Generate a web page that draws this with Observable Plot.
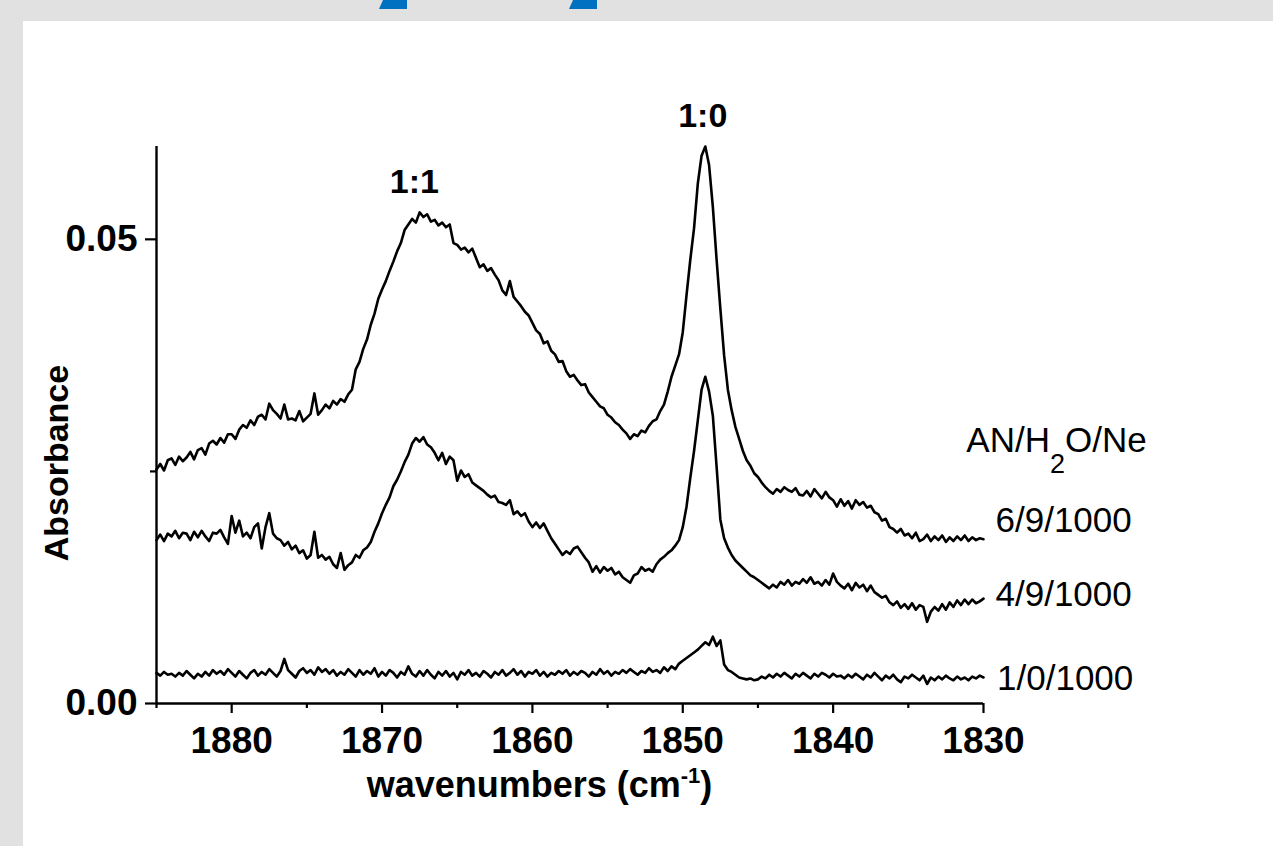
<!DOCTYPE html>
<html><head><meta charset="utf-8">
<script src="https://cdn.jsdelivr.net/npm/d3@7"></script>
<script src="https://cdn.jsdelivr.net/npm/@observablehq/plot@0.6"></script>
<style>
html,body{margin:0;padding:0;background:#e1e1e1;width:1273px;height:846px;overflow:hidden;}
#panel{position:absolute;left:23px;top:21px;width:1250px;height:825px;background:#fff;}
.blue{position:absolute;top:0;height:9px;background:#0070c0;clip-path:polygon(4px 0,100% 0,100% 100%,0 100%);}
#chart{position:absolute;left:0;top:0;}
</style></head><body>
<div id="panel"></div>
<div class="blue" style="left:379px;width:28px"></div>
<div class="blue" style="left:569px;width:28px"></div>
<div id="chart"></div>
<script>
// wavenumber grid (cm-1)
const wavenumbers = [
1885,1884.75,1884.5,1884.25,1884,1883.75,1883.5,1883.25,1883,1882.75,1882.5,1882.25,
1882,1881.75,1881.5,1881.25,1881,1880.75,1880.5,1880.25,1880,1879.75,1879.5,1879.25,
1879,1878.75,1878.5,1878.25,1878,1877.75,1877.5,1877.25,1877,1876.75,1876.5,1876.25,
1876,1875.75,1875.5,1875.25,1875,1874.75,1874.5,1874.25,1874,1873.75,1873.5,1873.25,
1873,1872.75,1872.5,1872.25,1872,1871.75,1871.5,1871.25,1871,1870.75,1870.5,1870.25,
1870,1869.75,1869.5,1869.25,1869,1868.75,1868.5,1868.25,1868,1867.75,1867.5,1867.25,
1867,1866.75,1866.5,1866.25,1866,1865.75,1865.5,1865.25,1865,1864.75,1864.5,1864.25,
1864,1863.75,1863.5,1863.25,1863,1862.75,1862.5,1862.25,1862,1861.75,1861.5,1861.25,
1861,1860.75,1860.5,1860.25,1860,1859.75,1859.5,1859.25,1859,1858.75,1858.5,1858.25,
1858,1857.75,1857.5,1857.25,1857,1856.75,1856.5,1856.25,1856,1855.75,1855.5,1855.25,
1855,1854.75,1854.5,1854.25,1854,1853.75,1853.5,1853.25,1853,1852.75,1852.5,1852.25,
1852,1851.75,1851.5,1851.25,1851,1850.75,1850.5,1850.25,1850,1849.75,1849.5,1849.25,
1849,1848.75,1848.5,1848.25,1848,1847.75,1847.5,1847.25,1847,1846.75,1846.5,1846.25,
1846,1845.75,1845.5,1845.25,1845,1844.75,1844.5,1844.25,1844,1843.75,1843.5,1843.25,
1843,1842.75,1842.5,1842.25,1842,1841.75,1841.5,1841.25,1841,1840.75,1840.5,1840.25,
1840,1839.75,1839.5,1839.25,1839,1838.75,1838.5,1838.25,1838,1837.75,1837.5,1837.25,
1837,1836.75,1836.5,1836.25,1836,1835.75,1835.5,1835.25,1835,1834.75,1834.5,1834.25,
1834,1833.75,1833.5,1833.25,1833,1832.75,1832.5,1832.25,1832,1831.75,1831.5,1831.25,
1831,1830.75,1830.5,1830.25,1830];

// AN/H2O/Ne = 6/9/1000
const absorbance_6_9_1000 = [
0.0252,0.0258,0.0251,0.0262, 0.0264,0.0257,0.0266,0.0261, 0.0265,0.0271,0.0263,0.0273,
0.0275,0.0268,0.0280,0.0283, 0.0279,0.0286,0.0281,0.0290, 0.0290,0.0285,0.0295,0.0300,
0.0297,0.0305,0.0300,0.0309, 0.0311,0.0306,0.0323,0.0316, 0.0312,0.0307,0.0322,0.0306,
0.0307,0.0305,0.0315,0.0304, 0.0308,0.0312,0.0334,0.0311, 0.0316,0.0322,0.0318,0.0326,
0.0322,0.0328,0.0325,0.0333, 0.0338,0.0360,0.0368,0.0382, 0.0392,0.0408,0.0420,0.0436,
0.0446,0.0455,0.0466,0.0476, 0.0487,0.0496,0.0510,0.0516, 0.0522,0.0518,0.0529,0.0524,
0.0527,0.0519,0.0521,0.0515, 0.0518,0.0513,0.0516,0.0496, 0.0494,0.0489,0.0491,0.0486,
0.0490,0.0480,0.0470,0.0473, 0.0466,0.0469,0.0462,0.0456, 0.0445,0.0440,0.0455,0.0438,
0.0433,0.0428,0.0422,0.0418, 0.0410,0.0402,0.0398,0.0388, 0.0390,0.0380,0.0376,0.0368,
0.0369,0.0358,0.0352,0.0354, 0.0348,0.0343,0.0344,0.0335, 0.0330,0.0325,0.0320,0.0318,
0.0311,0.0308,0.0303,0.0300, 0.0295,0.0291,0.0285,0.0290, 0.0288,0.0294,0.0292,0.0299,
0.0304,0.0306,0.0315,0.0322, 0.0336,0.0352,0.0364,0.0376, 0.0400,0.0440,0.0478,0.0512,
0.0560,0.0590,0.0600,0.0580, 0.0535,0.0478,0.0425,0.0375, 0.0338,0.0316,0.0298,0.0285,
0.0272,0.0262,0.0256,0.0248, 0.0244,0.0238,0.0233,0.0229, 0.0226,0.0231,0.0228,0.0233,
0.0230,0.0228,0.0232,0.0225, 0.0224,0.0229,0.0223,0.0231, 0.0226,0.0221,0.0228,0.0222,
0.0219,0.0212,0.0220,0.0213, 0.0218,0.0210,0.0219,0.0214, 0.0217,0.0211,0.0213,0.0206,
0.0204,0.0197,0.0199,0.0190, 0.0188,0.0184,0.0188,0.0181, 0.0183,0.0178,0.0184,0.0175,
0.0177,0.0182,0.0175,0.0180, 0.0176,0.0181,0.0174,0.0179, 0.0175,0.0180,0.0176,0.0181,
0.0175,0.0179,0.0176,0.0178, 0.0177];

// AN/H2O/Ne = 4/9/1000
const absorbance_4_9_1000 = [
0.0176,0.0182,0.0175,0.0183, 0.0180,0.0186,0.0178,0.0184, 0.0183,0.0176,0.0185,0.0179,
0.0186,0.0180,0.0175,0.0184, 0.0183,0.0187,0.0179,0.0172, 0.0202,0.0184,0.0197,0.0180,
0.0184,0.0178,0.0190,0.0194, 0.0167,0.0190,0.0205,0.0183, 0.0178,0.0176,0.0170,0.0174,
0.0166,0.0170,0.0162,0.0165, 0.0156,0.0160,0.0185,0.0157, 0.0160,0.0155,0.0158,0.0150,
0.0146,0.0162,0.0144,0.0149, 0.0152,0.0160,0.0157,0.0165, 0.0168,0.0174,0.0185,0.0194,
0.0205,0.0214,0.0222,0.0234, 0.0241,0.0250,0.0260,0.0268, 0.0280,0.0286,0.0282,0.0287,
0.0279,0.0276,0.0270,0.0262, 0.0270,0.0258,0.0266,0.0262, 0.0240,0.0251,0.0244,0.0247,
0.0238,0.0235,0.0232,0.0229, 0.0225,0.0222,0.0224,0.0217, 0.0216,0.0214,0.0219,0.0204,
0.0207,0.0202,0.0205,0.0196, 0.0190,0.0195,0.0189,0.0194, 0.0186,0.0178,0.0172,0.0166,
0.0160,0.0164,0.0161,0.0167, 0.0169,0.0163,0.0157,0.0152, 0.0142,0.0148,0.0141,0.0147,
0.0143,0.0146,0.0139,0.0142, 0.0136,0.0133,0.0130,0.0138, 0.0140,0.0147,0.0143,0.0145,
0.0142,0.0150,0.0155,0.0158, 0.0162,0.0165,0.0170,0.0176, 0.0190,0.0212,0.0243,0.0272,
0.0305,0.0338,0.0352,0.0336, 0.0310,0.0255,0.0198,0.0178, 0.0168,0.0160,0.0154,0.0150,
0.0146,0.0142,0.0138,0.0136, 0.0133,0.0130,0.0127,0.0124, 0.0128,0.0125,0.0131,0.0128,
0.0133,0.0127,0.0131,0.0129, 0.0134,0.0130,0.0136,0.0129, 0.0131,0.0127,0.0133,0.0128,
0.0140,0.0131,0.0127,0.0124, 0.0129,0.0122,0.0130,0.0125, 0.0128,0.0121,0.0127,0.0120,
0.0117,0.0114,0.0116,0.0109, 0.0106,0.0110,0.0103,0.0107, 0.0102,0.0108,0.0101,0.0106,
0.0104,0.0088,0.0099,0.0104, 0.0100,0.0107,0.0101,0.0109, 0.0104,0.0111,0.0106,0.0112,
0.0107,0.0112,0.0108,0.0110, 0.0113];

// AN/H2O/Ne = 1/0/1000
const absorbance_1_0_1000 = [
0.0033,0.0030,0.0034,0.0031, 0.0032,0.0029,0.0033,0.0030, 0.0035,0.0031,0.0027,0.0032,
0.0029,0.0034,0.0030,0.0036, 0.0032,0.0035,0.0031,0.0037, 0.0033,0.0029,0.0035,0.0031,
0.0027,0.0033,0.0036,0.0030, 0.0034,0.0031,0.0037,0.0033, 0.0029,0.0035,0.0048,0.0036,
0.0032,0.0028,0.0035,0.0038, 0.0033,0.0036,0.0031,0.0039, 0.0034,0.0037,0.0032,0.0036,
0.0030,0.0034,0.0031,0.0037, 0.0033,0.0029,0.0036,0.0031, 0.0035,0.0032,0.0038,0.0029,
0.0034,0.0030,0.0036,0.0033, 0.0028,0.0034,0.0031,0.0040, 0.0032,0.0029,0.0035,0.0030,
0.0036,0.0031,0.0027,0.0034, 0.0030,0.0035,0.0029,0.0033, 0.0026,0.0034,0.0031,0.0036,
0.0030,0.0033,0.0029,0.0035, 0.0032,0.0028,0.0034,0.0031, 0.0036,0.0030,0.0033,0.0037,
0.0031,0.0035,0.0029,0.0034, 0.0032,0.0036,0.0030,0.0034, 0.0029,0.0033,0.0031,0.0035,
0.0032,0.0036,0.0030,0.0034, 0.0031,0.0035,0.0033,0.0029, 0.0034,0.0031,0.0037,0.0032,
0.0035,0.0030,0.0034,0.0032, 0.0036,0.0033,0.0037,0.0034, 0.0031,0.0035,0.0033,0.0038,
0.0034,0.0036,0.0033,0.0039, 0.0035,0.0040,0.0037,0.0043, 0.0046,0.0049,0.0052,0.0055,
0.0058,0.0062,0.0066,0.0063, 0.0072,0.0062,0.0068,0.0042, 0.0036,0.0034,0.0031,0.0028,
0.0027,0.0026,0.0027,0.0025, 0.0026,0.0029,0.0027,0.0031, 0.0028,0.0032,0.0029,0.0033,
0.0030,0.0027,0.0032,0.0029, 0.0033,0.0030,0.0027,0.0032, 0.0029,0.0033,0.0031,0.0028,
0.0032,0.0029,0.0030,0.0027, 0.0031,0.0028,0.0032,0.0029, 0.0026,0.0031,0.0028,0.0033,
0.0029,0.0025,0.0030,0.0027, 0.0031,0.0026,0.0023,0.0029, 0.0027,0.0031,0.0028,0.0025,
0.0030,0.0021,0.0028,0.0025, 0.0029,0.0026,0.0030,0.0027, 0.0025,0.0029,0.0026,0.0028,
0.0025,0.0029,0.0027,0.0030, 0.0028];

const seriesNames = ["6/9/1000", "4/9/1000", "1/0/1000"];
const xMajorTicks = [1880, 1870, 1860, 1850, 1840, 1830];
const xMinorTicks = [1885, 1875, 1865, 1855, 1845, 1835];
const yMajorTicks = [0, 0.05];
const yMinorTicks = [0.025];
const peakLabels = [
  {label: "1:1", w: 1867.85, a: 0.0562},
  {label: "1:0", w: 1848.67, a: 0.0633}
];
const sampleLabels = [
  {label: "AN/H2O/Ne", w: 1831.14, a: 0.0283},
  {label: "6/9/1000", w: 1829.2, a: 0.01966},
  {label: "4/9/1000", w: 1829.2, a: 0.01169},
  {label: "1/0/1000", w: 1829.1, a: 0.00264}
];
const xTitle = [{label: "wavenumbers (cm-1)", w: 1859.53}];
const yTitle = [{label: "Absorbance", a: 0.0259}];

const rows = [];
[absorbance_6_9_1000, absorbance_4_9_1000, absorbance_1_0_1000].forEach((arr, k) =>
  arr.forEach((a, i) => rows.push({w: wavenumbers[i], a, series: seriesNames[k]})));

const FONT = "'Liberation Sans', Arial, Helvetica, sans-serif";
const plot = Plot.plot({
  width: 1273, height: 846,
  marginLeft: 156, marginRight: 290, marginTop: 146, marginBottom: 143,
  style: {fontFamily: FONT, background: "transparent", color: "black", overflow: "visible"},
  x: {domain: [1885, 1830], axis: null, label: null},
  y: {domain: [0, 0.06], axis: null, label: null},
  marks: [
    Plot.line(rows, {x: "w", y: "a", z: "series", stroke: "black", strokeWidth: 2.6, strokeLinejoin: "round"}),
    Plot.ruleY([0], {stroke: "black", strokeWidth: 2.4}),
    Plot.ruleX([1885], {stroke: "black", strokeWidth: 2.4}),
    Plot.axisX(xMajorTicks, {anchor: "bottom", label: null, tickSize: 10, tickPadding: 13, tickFormat: d => String(d), fontSize: 37, fontWeight: "bold", strokeWidth: 2.2}),
    Plot.axisX(xMinorTicks, {anchor: "bottom", label: null, tickSize: 5, text: null, strokeWidth: 2.2}),
    Plot.axisY(yMajorTicks, {anchor: "left", label: null, tickSize: 11, tickPadding: 8, tickFormat: d3.format(".2f"), fontSize: 37, fontWeight: "bold", strokeWidth: 2.2}),
    Plot.axisY(yMinorTicks, {anchor: "left", label: null, tickSize: 6, text: null, strokeWidth: 2.2}),
    Plot.text(peakLabels, {x: "w", y: "a", text: "label", fontSize: 34, fontWeight: "bold"}),
    Plot.text(sampleLabels, {x: "w", y: "a", text: "label", textAnchor: "start", fontSize: 35}),
    Plot.text(xTitle, {x: "w", text: "label", frameAnchor: "bottom", textAnchor: "middle", lineAnchor: "middle", dy: 82, fontSize: 36, fontWeight: "bold"}),
    Plot.text(yTitle, {y: "a", text: "label", frameAnchor: "left", textAnchor: "middle", lineAnchor: "middle", dx: -99, rotate: -90, fontSize: 34, fontWeight: "bold"})
  ]
});
document.getElementById("chart").append(plot);

const NS = "http://www.w3.org/2000/svg";
function addSpan(t, str, attrs) {
  const ts = document.createElementNS(NS, "tspan");
  ts.textContent = str;
  for (const k in attrs) ts.setAttribute(k, attrs[k]);
  t.append(ts);
}
plot.querySelectorAll("text").forEach(t => {
  const s = t.textContent;
  if (s === "AN/H2O/Ne") {
    t.textContent = "";
    addSpan(t, "AN/H", {});
    addSpan(t, "2", {dy: "21", "font-size": "27"});
    addSpan(t, "O/Ne", {dy: "-21"});
  } else if (s === "wavenumbers (cm-1)") {
    t.textContent = "";
    addSpan(t, "wavenumbers (cm", {});
    addSpan(t, "-1", {dy: "-14", "font-size": "22"});
    addSpan(t, ")", {dy: "14"});
  }
});
</script>
</body></html>
